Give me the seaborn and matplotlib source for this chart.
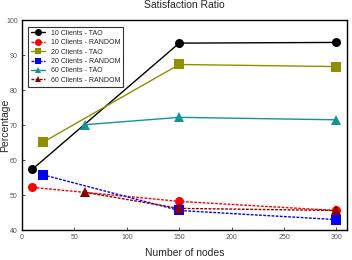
import pandas as pd
import seaborn as sns
import matplotlib.pyplot as plt

sns.set_style("white")
plt.rcParams['font.family'] = ['Liberation Sans', 'DejaVu Sans']

labels = ['10 Clients - TAO', '10 Clients - RANDOM', '20 Clients - TAO',
          '20 Clients - RANDOM', '60 Clients - TAO', '60 Clients - RANDOM']
nodes = [[10, 150, 300], [10, 150, 300], [20, 150, 300],
         [20, 150, 300], [60, 150, 300], [60, 150, 300]]
values = [[57.4, 93.4, 93.6],
          [52.2, 48.2, 45.6],
          [65.1, 87.3, 86.7],
          [55.8, 45.6, 43.0],
          [70.1, 72.2, 71.5],
          [50.8, 46.2, 45.6]]
colors = ['black', 'red', '#8f8f00', 'blue', '#139595', '#8b0000']
markers = ['o', 'o', 's', 's', '^', '^']

fig = plt.figure(figsize=(3.52, 2.6), dpi=100)
ax = fig.add_axes([0.0625, 0.115, 0.923, 0.808])

for lab, xs, ys, c, m in zip(labels, nodes, values, colors, markers):
    df = pd.DataFrame({'x': xs, 'y': ys})
    sns.lineplot(data=df, x='x', y='y', ax=ax, color=c, marker=m, markersize=6.5,
                 markeredgewidth=0, linewidth=1, label=lab)
    # random series drawn with short dashes
    ax.lines[-1].set_linestyle((0, (2, 1)) if 'RANDOM' in lab else '-')

ax.set_xlim(0, 310)
ax.set_ylim(40, 100)
ax.set_xticks([0, 50, 100, 150, 200, 250, 300])
ax.set_yticks([40, 50, 60, 70, 80, 90, 100])
ax.tick_params(labelsize=5, labelcolor='#555555', direction='in', length=2,
               width=0.6, color='#333333', pad=3, left=True, bottom=True)
for s in ax.spines.values():
    s.set_color('black')
    s.set_linewidth(1)

ax.set_xlabel('Number of nodes', fontsize=7.5, labelpad=5)
ax.set_ylabel('Percentage', fontsize=7.5)
ax.yaxis.set_label_coords(-0.038, 0.5)
ax.set_title('Satisfaction Ratio', fontsize=7.5, pad=9)

leg = ax.legend(loc='upper left', fontsize=5, frameon=True, fancybox=False,
                edgecolor='black', handlelength=2, borderpad=0.45,
                labelspacing=0.35, bbox_to_anchor=(0.008, 0.985))
leg.get_frame().set_linewidth(0.8)
for h in leg.get_lines():
    h.set_markersize(5)

fig.savefig('out.png', dpi=100)
